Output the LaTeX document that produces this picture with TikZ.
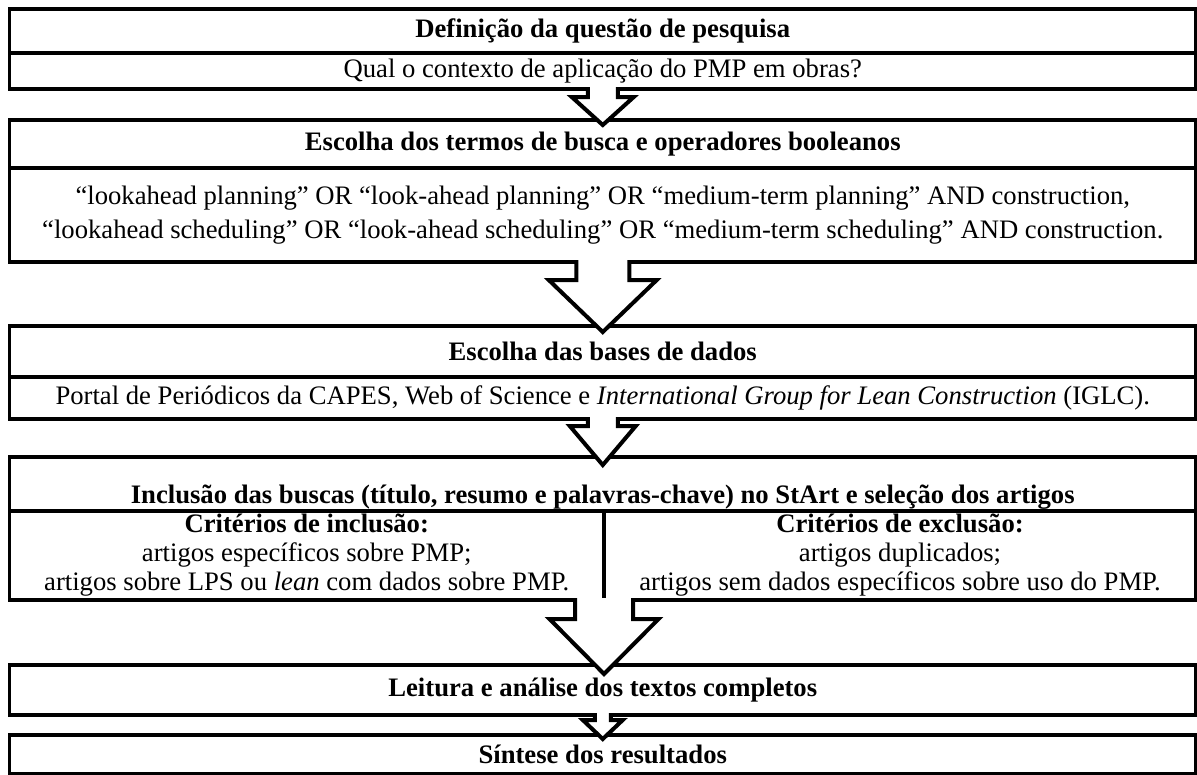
\documentclass[tikz,border=0pt]{standalone}
\usepackage{fontspec}
\setmainfont{Liberation Serif}
\usetikzlibrary{positioning,calc}

% hollow block arrow: from, to, stem half width, head half width, head drop, tip overshoot
\newcommand{\blockarrow}[6]{%
  \filldraw[arrowline] ($(#1)+(-#3,-2)$) -- ($(#1)+(-#3,#5)$) -- ($(#1)+(-#4,#5)$)
    -- ($(#1 |- #2)+(0,#6)$) -- ($(#1)+(#4,#5)$) -- ($(#1)+(#3,#5)$) -- ($(#1)+(#3,-2)$);
}

\begin{document}
\begin{tikzpicture}[
    x=0.75pt, y=-0.75pt,
    band/.style={rectangle, draw, line width=2.6pt, outer sep=0pt, inner sep=0pt, minimum width=889.9pt, align=center, font=\fontsize{20}{22.5}\selectfont},
    titleband/.style={band, font=\fontsize{20}{22.5}\selectfont\bfseries},
    column/.style={band, minimum height=66.75pt, font=\fontsize{20}{21.75}\selectfont},
    arrowline/.style={line width=3pt, fill=white, line join=miter}
]
\useasboundingbox (0,0) rectangle (1197,775);

% Research question
\node[titleband, minimum height=33pt, anchor=north west] (question) at (9.5,9) {Definição da questão de pesquisa};
\node[band, minimum height=27pt, below=0pt of question] (questiontext) {Qual o contexto de aplicação do PMP em obras?};

% Search terms
\node[titleband, minimum height=36pt, anchor=north west] (terms) at (9.5,120) {Escolha dos termos de busca e operadores booleanos};
\node[band, minimum height=70.5pt, below=0pt of terms, font=\fontsize{20}{25.5}\selectfont] (termstext) {“lookahead planning” OR “look-ahead planning” OR “medium-term planning” AND construction,\\“lookahead scheduling” OR “look-ahead scheduling” OR “medium-term scheduling” AND construction.};

% Databases
\node[titleband, minimum height=38.25pt, anchor=north west] (bases) at (9.5,326) {Escolha das bases de dados};
\node[band, minimum height=31.5pt, below=0pt of bases] (basestext) {Portal de Periódicos da CAPES, Web of Science e \textit{International Group for Lean Construction} (IGLC).};

% Search and selection
\node[titleband, minimum height=40.5pt, text height=32.5pt, text depth=3pt, anchor=north west] (search) at (9.5,457) {Inclusão das buscas (título, resumo e palavras-chave) no StArt e seleção dos artigos};
\node[column, minimum width=445.9pt, anchor=north west] (incl) at (search.south west) {\textbf{Critérios de inclusão:}\\artigos específicos sobre PMP;\\artigos sobre LPS ou \textit{lean} com dados sobre PMP.};
\node[column, minimum width=444pt, right=0pt of incl] (excl) {\textbf{Critérios de exclusão:}\\artigos duplicados;\\artigos sem dados específicos sobre uso do PMP.};

% Reading
\node[titleband, minimum height=37.5pt, anchor=north west] (reading) at (9.5,665) {Leitura e análise dos textos completos};

% Synthesis
\node[titleband, minimum height=29pt, anchor=north west] (synthesis) at (9.5,735) {Síntese dos resultados};

% Arrows
\blockarrow{questiontext.south}{terms.north}{15}{31}{8}{5}
\blockarrow{termstext.south}{bases.north}{26.5}{54}{18}{6}
\blockarrow{basestext.south}{search.north}{15}{33}{7}{8}
\blockarrow{incl.south east}{reading.north}{29}{54.5}{19}{9}
\blockarrow{reading.south}{synthesis.north}{8}{20}{5}{4}

\end{tikzpicture}
\end{document}
